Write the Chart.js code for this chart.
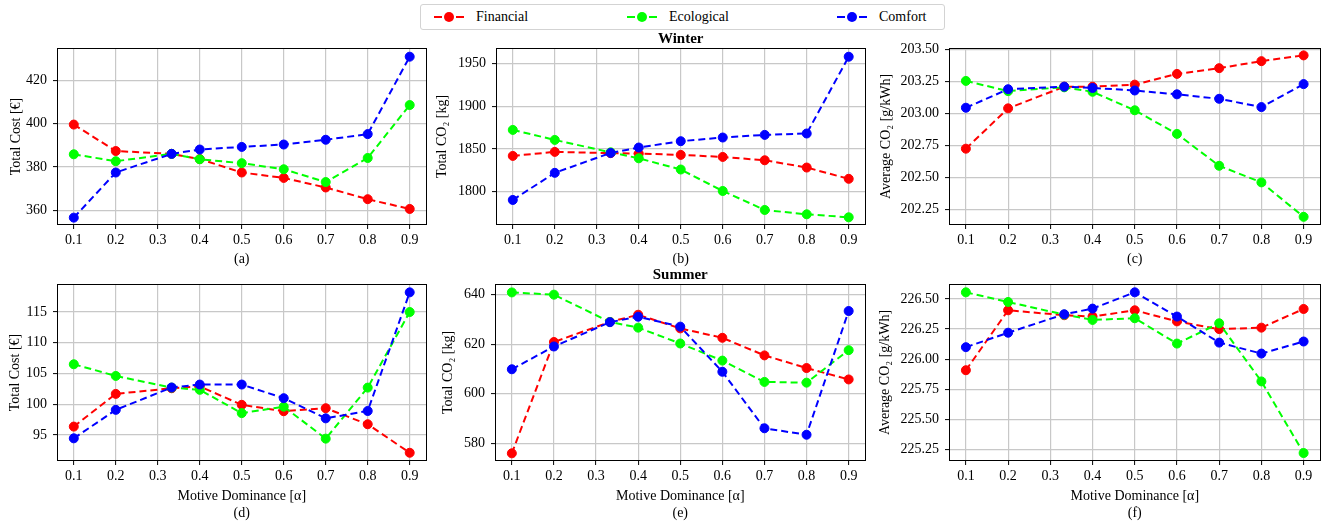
<!DOCTYPE html>
<html>
<head>
<meta charset="utf-8">
<title>Motive dominance</title>
<script src="https://cdn.jsdelivr.net/npm/chart.js@4.4.1/dist/chart.umd.min.js"></script>
<style>
  body { margin: 0; background: #fff; font-family: 'Liberation Serif', 'Times New Roman', serif; }
  #wrap { position: relative; width: 1326px; height: 525px; overflow: hidden; }
  #wrap canvas { position: absolute; }
  .legend { position: absolute; left: 420px; top: 4px; width: 525px; height: 26px;
    border: 1px solid #d3d3d3; border-radius: 3px; box-sizing: border-box; }
  .item { position: absolute; top: 0; height: 24px; display: flex; align-items: center;
    font-size: 14px; color: #000; }
  .item svg { margin-right: 12px; }
</style>
</head>
<body>
<div id="wrap">
  <div class="legend" id="legend"></div>
  <canvas id="a"></canvas>
  <canvas id="b"></canvas>
  <canvas id="c"></canvas>
  <canvas id="d"></canvas>
  <canvas id="e"></canvas>
  <canvas id="f"></canvas>
</div>
<script>
// motive dominance values (x)
const alphas = [0.1, 0.2, 0.333, 0.4, 0.5, 0.6, 0.7, 0.8, 0.9];
const xTicks = [0.1, 0.2, 0.3, 0.4, 0.5, 0.6, 0.7, 0.8, 0.9];
const seriesNames = ['Financial', 'Ecological', 'Comfort'];

// Winter
const winterCostFin = [399.5, 387.3, 386.0, 383.6, 377.4, 374.9, 370.5, 365.1, 360.6];
const winterCostEco = [385.8, 382.6, 386.0, 383.5, 381.7, 378.9, 373.0, 384.1, 408.5];
const winterCostCom = [356.6, 377.4, 386.0, 388.0, 389.2, 390.3, 392.5, 395.1, 430.8];

const winterCo2Fin = [1841.8, 1846.5, 1845.0, 1844.5, 1843.0, 1840.6, 1836.7, 1828.2, 1815.0];
const winterCo2Eco = [1872.2, 1860.5, 1846.0, 1839.0, 1825.9, 1800.8, 1778.6, 1773.5, 1770.0];
const winterCo2Com = [1790.3, 1822.0, 1845.3, 1851.6, 1859.0, 1863.3, 1866.4, 1868.0, 1957.8];

const winterAvgFin = [202.724, 203.04, 203.21, 203.21, 203.226, 203.31, 203.355, 203.41, 203.455];
const winterAvgEco = [203.255, 203.175, 203.205, 203.17, 203.025, 202.84, 202.59, 202.46, 202.19];
const winterAvgCom = [203.045, 203.19, 203.21, 203.20, 203.18, 203.15, 203.115, 203.05, 203.23];

// Summer
const summerCostFin = [96.36, 101.68, 102.6, 102.9, 99.9, 98.86, 99.35, 96.74, 92.1];
const summerCostEco = [106.5, 104.6, 102.7, 102.34, 98.55, 99.6, 94.4, 102.7, 115.0];
const summerCostCom = [94.45, 99.08, 102.72, 103.2, 103.2, 100.98, 97.7, 98.9, 118.2];

const summerCo2Fin = [576.0, 620.9, 629.0, 631.9, 626.4, 622.6, 615.5, 610.4, 605.8];
const summerCo2Eco = [640.9, 640.0, 629.0, 626.7, 620.3, 613.4, 604.8, 604.5, 617.6];
const summerCo2Com = [609.9, 619.1, 628.9, 631.1, 627.1, 608.9, 586.1, 583.5, 633.4];

const summerAvgFin = [225.909, 226.406, 226.365, 226.354, 226.406, 226.314, 226.25, 226.262, 226.417];
const summerAvgEco = [226.555, 226.475, 226.37, 226.326, 226.34, 226.13, 226.298, 225.816, 225.222];
const summerAvgCom = [226.10, 226.22, 226.373, 226.42, 226.555, 226.354, 226.138, 226.047, 226.147];

// y ticks per panel
const ticksA = [360, 380, 400, 420];
const ticksB = [1800, 1850, 1900, 1950];
const ticksC = [202.25, 202.5, 202.75, 203.0, 203.25, 203.5];
const ticksD = [95, 100, 105, 110, 115];
const ticksE = [580, 600, 620, 640];
const ticksF = [225.25, 225.5, 225.75, 226.0, 226.25, 226.5];

const colors = ['#ff0000', '#00ff00', '#0000ff'];
const FONT = "'Liberation Serif', 'Times New Roman', serif";

Chart.defaults.color = '#000';
Chart.defaults.font.family = FONT;
Chart.defaults.font.size = 14;

// black box around each plot area
const frame = {
  id: 'frame',
  afterDatasetsDraw(chart) {
    const a = chart.chartArea, ctx = chart.ctx;
    ctx.save();
    ctx.strokeStyle = '#000';
    ctx.lineWidth = 1;
    ctx.strokeRect(Math.round(a.left) + 0.5, Math.round(a.top) + 0.5,
      Math.round(a.right - a.left) - 1, Math.round(a.bottom - a.top) - 1);
    ctx.restore();
  }
};

function series(i, vals) {
  return {
    label: seriesNames[i],
    data: alphas.map((a, k) => ({ x: a, y: vals[k] })),
    borderColor: colors[i],
    backgroundColor: colors[i],
    pointBackgroundColor: colors[i],
    pointBorderColor: colors[i],
    borderWidth: 2,
    borderDash: [7, 4],
    pointRadius: 4.5,
    pointBorderWidth: 1,
    tension: 0,
    order: 2 - i
  };
}

function panel(id, p) {
  const el = document.getElementById(id);
  el.width = p.w; el.height = p.h;
  el.style.left = p.left + 'px';
  el.style.top = p.top + 'px';
  new Chart(el, {
    type: 'line',
    data: { datasets: [series(0, p.fin), series(1, p.eco), series(2, p.com)] },
    plugins: [frame],
    options: {
      responsive: false,
      animation: false,
      events: [],
      layout: { padding: { top: p.title ? 0 : 18, right: 4, left: 0, bottom: 0 } },
      plugins: {
        legend: { display: false },
        tooltip: { enabled: false },
        title: {
          display: !!p.title, text: p.title, fullSize: false,
          font: { size: 15, weight: 'bold', family: FONT }, color: '#000',
          padding: { top: 0, bottom: 0 }
        }
      },
      scales: {
        x: {
          type: 'linear', min: 0.06, max: 0.94,
          afterBuildTicks: s => { s.ticks = xTicks.map(v => ({ value: v })); },
          afterFit: s => { s.height = p.xH; },
          ticks: { callback: v => v.toFixed(1), padding: 3, maxRotation: 0, autoSkip: false },
          grid: { color: '#c8c8c8', lineWidth: 1.2, tickColor: '#000', tickLength: 4, tickWidth: 1 },
          border: { display: false },
          title: { display: true, text: p.xTitle, padding: { top: 0, bottom: 0 }, font: { size: 14 } }
        },
        y: {
          min: p.ymin, max: p.ymax,
          afterBuildTicks: s => { s.ticks = p.yTicks.map(v => ({ value: v })); },
          afterFit: s => { s.width = p.yW; },
          ticks: { callback: v => v.toFixed(p.dec), padding: 6, autoSkip: false },
          grid: { color: '#c8c8c8', lineWidth: 1.2, tickColor: '#000', tickLength: 4, tickWidth: 1 },
          border: { display: false },
          title: { display: true, text: p.yTitle, padding: { top: p.yPad, bottom: 0 }, font: { size: 14 } }
        }
      }
    }
  });
}

const topRow = { top: 30, h: 238, xH: 43 };
const botRow = { top: 266, h: 256, xH: 61 };
const bottomTitle = ['Motive Dominance [\u03b1]'];

panel('a', { ...topRow, left: 0, w: 432, yW: 57, yPad: 8,
  fin: winterCostFin, eco: winterCostEco, com: winterCostCom,
  ymin: 353.2, ymax: 434.8, yTicks: ticksA, dec: 0,
  yTitle: 'Total Cost [\u20ac]', xTitle: '(a)' });
panel('b', { ...topRow, left: 430, w: 441, yW: 66, yPad: 3.5, title: 'Winter',
  fin: winterCo2Fin, eco: winterCo2Eco, com: winterCo2Com,
  ymin: 1761, ymax: 1968, yTicks: ticksB, dec: 0,
  yTitle: 'Total CO\u2082 [kg]', xTitle: '(b)' });
panel('c', { ...topRow, left: 862, w: 464, yW: 87, yPad: 15.5,
  fin: winterAvgFin, eco: winterAvgEco, com: winterAvgCom,
  ymin: 202.126, ymax: 203.513, yTicks: ticksC, dec: 2,
  yTitle: 'Average CO\u2082 [g/kWh]', xTitle: '(c)' });

panel('d', { ...botRow, left: 0, w: 432, yW: 57, yPad: 7,
  fin: summerCostFin, eco: summerCostEco, com: summerCostCom,
  ymin: 90.76, ymax: 119.56, yTicks: ticksD, dec: 0,
  yTitle: 'Total Cost [\u20ac]', xTitle: bottomTitle.concat('(d)') });
panel('e', { ...botRow, left: 430, w: 441, yW: 65, yPad: 9.5, title: 'Summer',
  fin: summerCo2Fin, eco: summerCo2Eco, com: summerCo2Com,
  ymin: 572.9, ymax: 644.3, yTicks: ticksE, dec: 0,
  yTitle: 'Total CO\u2082 [kg]', xTitle: bottomTitle.concat('(e)') });
panel('f', { ...botRow, left: 862, w: 464, yW: 87, yPad: 14.5,
  fin: summerAvgFin, eco: summerAvgEco, com: summerAvgCom,
  ymin: 225.156, ymax: 226.624, yTicks: ticksF, dec: 2,
  yTitle: 'Average CO\u2082 [g/kWh]', xTitle: bottomTitle.concat('(f)') });

// shared legend
const legendX = [13, 206, 416];
const legend = document.getElementById('legend');
seriesNames.forEach((name, i) => {
  const it = document.createElement('div');
  it.className = 'item';
  it.style.left = legendX[i] + 'px';
  it.innerHTML =
    '<svg width="30" height="12"><line x1="0" y1="6" x2="30" y2="6" stroke="' + colors[i] +
    '" stroke-width="2" stroke-dasharray="8,14"/><circle cx="15" cy="6" r="5" fill="' + colors[i] +
    '"/></svg><span>' + name + '</span>';
  legend.appendChild(it);
});
</script>
</body>
</html>
